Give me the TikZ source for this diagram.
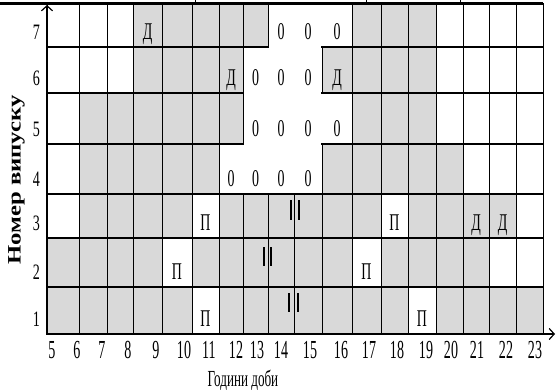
\documentclass[tikz,border=0pt]{standalone}
\usepackage{fontspec}
\setmainfont{Liberation Serif}
\usetikzlibrary{calc,arrows.meta}
\definecolor{cellgray}{RGB}{217,217,217}
\newcommand{\narrowtxt}[2][0.58]{\scalebox{#1}[1]{#2}}

\begin{document}
\begin{tikzpicture}[x=1pt,y=-1pt,
cellline/.style={line width=0.8pt},
rowline/.style={line width=1.8pt,line cap=rect},
txt/.style={inner sep=0pt,anchor=base,font=\fontsize{24}{26}\selectfont},
rowlbl/.style={inner sep=0pt,anchor=base east,font=\fontsize{22}{24}\selectfont},
hrlbl/.style={inner sep=0pt,anchor=base,font=\fontsize{26}{28}\selectfont},
axis/.style={line width=2.2pt,-{Straight Barb[length=5pt,width=11pt,line width=1.2pt]}},
brk/.style={line width=2pt}]
\useasboundingbox (0,0) rectangle (556,390);

% column and row edges
\foreach \x [count=\i from 0] in {47,79,107,133,162,192,219,243,268,294,322,352,381,408,436,463,489,516,543}
  \coordinate (c\i) at (\x,0);
\foreach \y [count=\j from 0] in {334,287,238,194,144,93,47,3.5}
  \coordinate (r\j) at (0,\y);

% cells: 0 white, 1 grey, 2 left out
\foreach \r/\cells in {
  7/{0,0,0,1,1,1,1,1,2,2,2,1,1,1,0,0,0,0},
  6/{0,0,0,1,1,1,1,2,2,2,1,1,1,1,0,0,0,0},
  5/{0,1,1,1,1,1,1,2,2,2,2,1,1,1,0,0,0,0},
  4/{0,1,1,1,1,1,2,2,2,2,1,1,1,1,1,0,0,0},
  3/{0,1,1,1,1,0,1,1,1,1,1,1,0,1,1,1,1,0},
  2/{1,1,1,1,0,1,1,1,1,1,1,0,1,1,1,1,0,0},
  1/{1,1,1,1,1,0,1,1,1,1,1,1,1,0,1,1,1,1}}
{
  \pgfmathtruncatemacro{\rb}{\r-1}
  \foreach \v [count=\c, remember=\c as \pc (initially 0)] in \cells {
    \coordinate (b\r-\c) at ($(c\pc |- r\rb)!0.5!(c\c |- r\rb)$);
    \ifnum\v<2
      \ifnum\v=1 \fill[cellgray] (c\pc |- r\rb) rectangle (c\c |- r\r); \fi
      \draw[cellline] (c\pc |- r\rb) -- (c\pc |- r\r) (c\c |- r\rb) -- (c\c |- r\r);
      \draw[rowline] (c\pc |- r\rb) -- (c\c |- r\rb) (c\pc |- r\r) -- (c\c |- r\r);
    \fi
  }
}

% top rule with the stubs of the table above
\coordinate (tl) at (0,3.5);
\draw[line width=2.5pt] (tl) -- (c18 |- r7);
\foreach \x in {195,366,460}
  \draw[cellline] (\x,0) -- (\x,3.5);

% marks in the cells
\foreach \r/\c/\t in {7/4/Д,7/9/0,7/10/0,7/11/0,6/7/Д,6/8/0,6/9/0,6/10/0,6/11/Д,
  5/8/0,5/9/0,5/10/0,5/11/0,4/7/0,4/8/0,4/9/0,4/10/0,
  3/6/П,3/13/П,3/16/Д,3/17/Д,2/5/П,2/12/П,1/6/П,1/14/П}
  \node[txt] (t\r-\c) at ([yshift=7.5pt]b\r-\c) {\narrowtxt{\t}};

% breaks
\foreach \ya/\yb/\xa/\xb in {200/220/291/299,247/266/264/271,293/312/289/298}
  \draw[brk] (\xa,\ya) -- (\xa,\yb) (\xb,\ya) -- (\xb,\yb);

% axes
\coordinate (ytip) at (47,5);
\coordinate (xtip) at (555,334);
\draw[axis] (c0 |- r0) -- (ytip);
\draw[axis] (c0 |- r0) -- (xtip);

\foreach \r in {1,...,7}{
  \pgfmathtruncatemacro{\rb}{\r-1}
  \node[rowlbl] (n\r) at ([xshift=-7pt,yshift=7.5pt]c0 |- r\rb) {\narrowtxt[0.64]{\r}};
}
\foreach \h/\x in {5/52,6/77,7/102,8/128,9/156,10/184,11/209,12/236,13/257,14/281,
  15/310,16/341,17/369,18/397,19/426,20/451,21/477,22/506,23/535}
  \node[hrlbl] (h\h) at (\x,358) {\narrowtxt[0.54]{\h}};

\node[inner sep=0pt,anchor=base,font=\fontsize{23}{25}\selectfont] (xlbl) at (243,386) {\narrowtxt[0.57]{Години доби}};
\node[inner sep=0pt,rotate=90,font=\bfseries\fontsize{19}{21}\selectfont] (ylbl) at (16.5,180) {\scalebox{1.3}[1]{Номер випуску}};
\end{tikzpicture}
\end{document}
